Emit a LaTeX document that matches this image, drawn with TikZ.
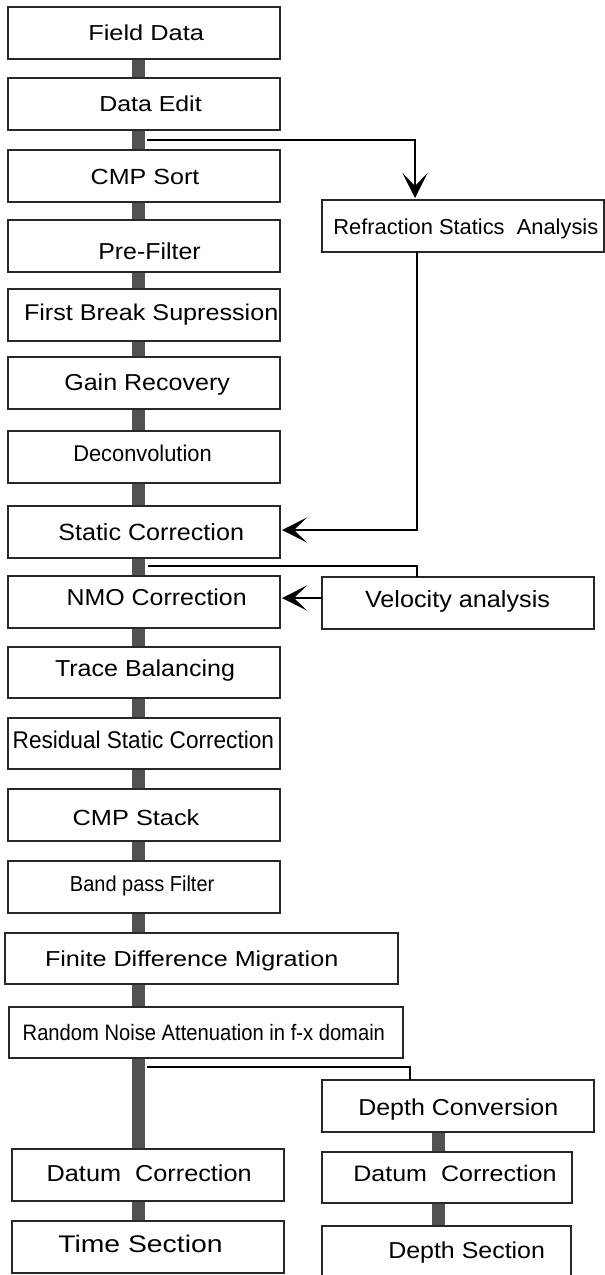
\documentclass[tikz,border=0pt]{standalone}
\usepackage{graphicx}
\usepackage{fontspec}
\setmainfont{Liberation Sans}
\usetikzlibrary{arrows.meta}
\pgfdeclarelayer{background}
\pgfsetlayers{background,main}
\definecolor{bargray}{RGB}{82,82,82}
\definecolor{edgegray}{RGB}{40,40,40}

% box from top-left (#2,#3) to bottom-right (#4,#5), in pixel units
\newcommand{\procbox}[5]{%
  \node[pbox, minimum width={#4-#2}, minimum height={#5-#3}, anchor=north west] (#1) at (#2,#3) {};}
% label: left edge #2, baseline #3, width #4, cap height #5
\newcommand{\proclabel}[6]{%
  \node[plabel] (#1) at (#2,#3)
    {\resizebox{#4pt}{\height}{\fontsize{\dimexpr #5pt*1000/716\relax}{\dimexpr #5pt*1400/716\relax}\selectfont #6}};}

\begin{document}
\begin{tikzpicture}[x=1pt, y=-1pt,
  pbox/.style={draw=edgegray, line width=1.3pt, fill=white, rectangle, inner sep=0pt, outer sep=0pt},
  plabel/.style={anchor=base west, inner sep=0pt, outer sep=0pt},
  bar/.style={draw=bargray, line width=13pt},
  conn/.style={draw=black, line width=2pt},
  tip/.style={-{Stealth[length=25pt, width=25pt, inset=13pt]}, shorten >=2pt}
]
\clip (0,0) rectangle (605,1275);

% main processing column
\procbox{fd}{8}{7}{280}{59}
\procbox{de}{8}{78}{280}{130}
\procbox{cs}{8}{150}{280}{202}
\procbox{pf}{8}{220}{280}{272}
\procbox{fb}{8}{289}{280}{341}
\procbox{gr}{8}{357}{280}{409}
\procbox{dc}{8}{431}{280}{483}
\procbox{sc}{8}{506}{280}{558}
\procbox{nmo}{8}{576}{280}{628}
\procbox{tb}{8}{647}{280}{698}
\procbox{rs}{8}{718}{280}{769}
\procbox{cst}{8}{789}{280}{841}
\procbox{bp}{8}{861}{280}{913}
\procbox{fdm}{5}{933}{398}{984}
\procbox{rna}{9}{1007}{403}{1058}
\procbox{dl}{12}{1149}{284}{1201}
\procbox{ts}{12}{1221}{284}{1273}

% side branches
\procbox{rsa}{322}{200}{604}{252}
\procbox{va}{322}{577}{594}{629}
\procbox{dcv}{322}{1080}{594}{1132}
\procbox{dr}{322}{1152}{572}{1203}
\procbox{ds}{322}{1226}{571}{1290}

% labels
\proclabel{fd-t}{88.3}{40}{115.7}{15.5}{Field Data}
\proclabel{de-t}{99.3}{111.7}{102.4}{15.5}{Data Edit}
\proclabel{cs-t}{90.7}{184}{108.7}{15.7}{CMP Sort}
\proclabel{pf-t}{98.3}{259}{102.4}{16.5}{Pre-Filter}
\proclabel{fb-t}{24}{320}{254.3}{16.3}{First Break Supression}
\proclabel{gr-t}{64.3}{390.7}{165.7}{16.5}{Gain Recovery}
\proclabel{dc-t}{73.3}{461.7}{138.4}{16.3}{Deconvolution}
\proclabel{sc-t}{58.3}{540}{185.7}{16.8}{Static Correction}
\proclabel{nmo-t}{66.7}{605.5}{180}{16.5}{NMO Correction}
\proclabel{tb-t}{55}{676}{180}{16.5}{Trace Balancing}
\proclabel{rs-t}{12.7}{748.3}{261.3}{17.3}{Residual Static Correction}
\proclabel{cst-t}{72.7}{825}{126.7}{15.7}{CMP Stack}
\proclabel{bp-t}{70}{891.7}{144.3}{15.5}{Band pass Filter}
\proclabel{fdm-t}{45}{966.7}{293.3}{15.5}{Finite Difference Migration}
\proclabel{rna-t}{22.7}{1040}{362.3}{16}{Random Noise Attenuation in f-x domain}
\proclabel{dl-t}{46.7}{1181.7}{205}{16.5}{Datum~~Correction}
\proclabel{ts-t}{58.3}{1252.7}{164.3}{17.2}{Time Section}
\proclabel{rsa-t}{333.3}{234}{265}{15.5}{Refraction Statics~~Analysis}
\proclabel{va-t}{365}{607.7}{185}{16.8}{Velocity analysis}
\proclabel{dcv-t}{358.3}{1115}{200}{16.5}{Depth Conversion}
\proclabel{dr-t}{353.3}{1181.7}{203.3}{16}{Datum~~Correction}
\proclabel{ds-t}{388.3}{1258.3}{156.7}{16.5}{Depth Section}

% axes of the thick flow bars and of the branch lines
\coordinate (barL) at (138.5,0);
\coordinate (barR) at (438.5,0);
\coordinate (k1) at (415,0);
\coordinate (k2) at (417,0);
\coordinate (k3) at (410,0);
\coordinate (j1) at (147,140);
\coordinate (j2) at (148,566);
\coordinate (j3) at (147,1067);

% white page and thick flow bars behind the boxes
\begin{pgfonlayer}{background}
  \fill[white] (0,0) rectangle (605,1275);
  \foreach \a/\b in {fd/de, de/cs, cs/pf, pf/fb, fb/gr, gr/dc, dc/sc, sc/nmo,
                     nmo/tb, tb/rs, rs/cst, cst/bp, bp/fdm, fdm/rna, rna/dl, dl/ts}
    \draw[bar] (\a.south -| barL) -- (\b.north -| barL);
  \foreach \a/\b in {dcv/dr, dr/ds}
    \draw[bar] (\a.south -| barR) -- (\b.north -| barR);
\end{pgfonlayer}

% branch connectors
\draw[conn, tip] (j1) -| (rsa.north -| k1);
\draw[conn, tip] (rsa.south -| k2) |- ([yshift=2pt]sc.east);
\draw[conn] (j2) -| (va.north -| k2);
\draw[conn, tip] ([yshift=5pt]va.west) -- ([yshift=5pt]va.west -| nmo.east);
\draw[conn] (j3) -| (dcv.north -| k3);
\end{tikzpicture}
\end{document}
